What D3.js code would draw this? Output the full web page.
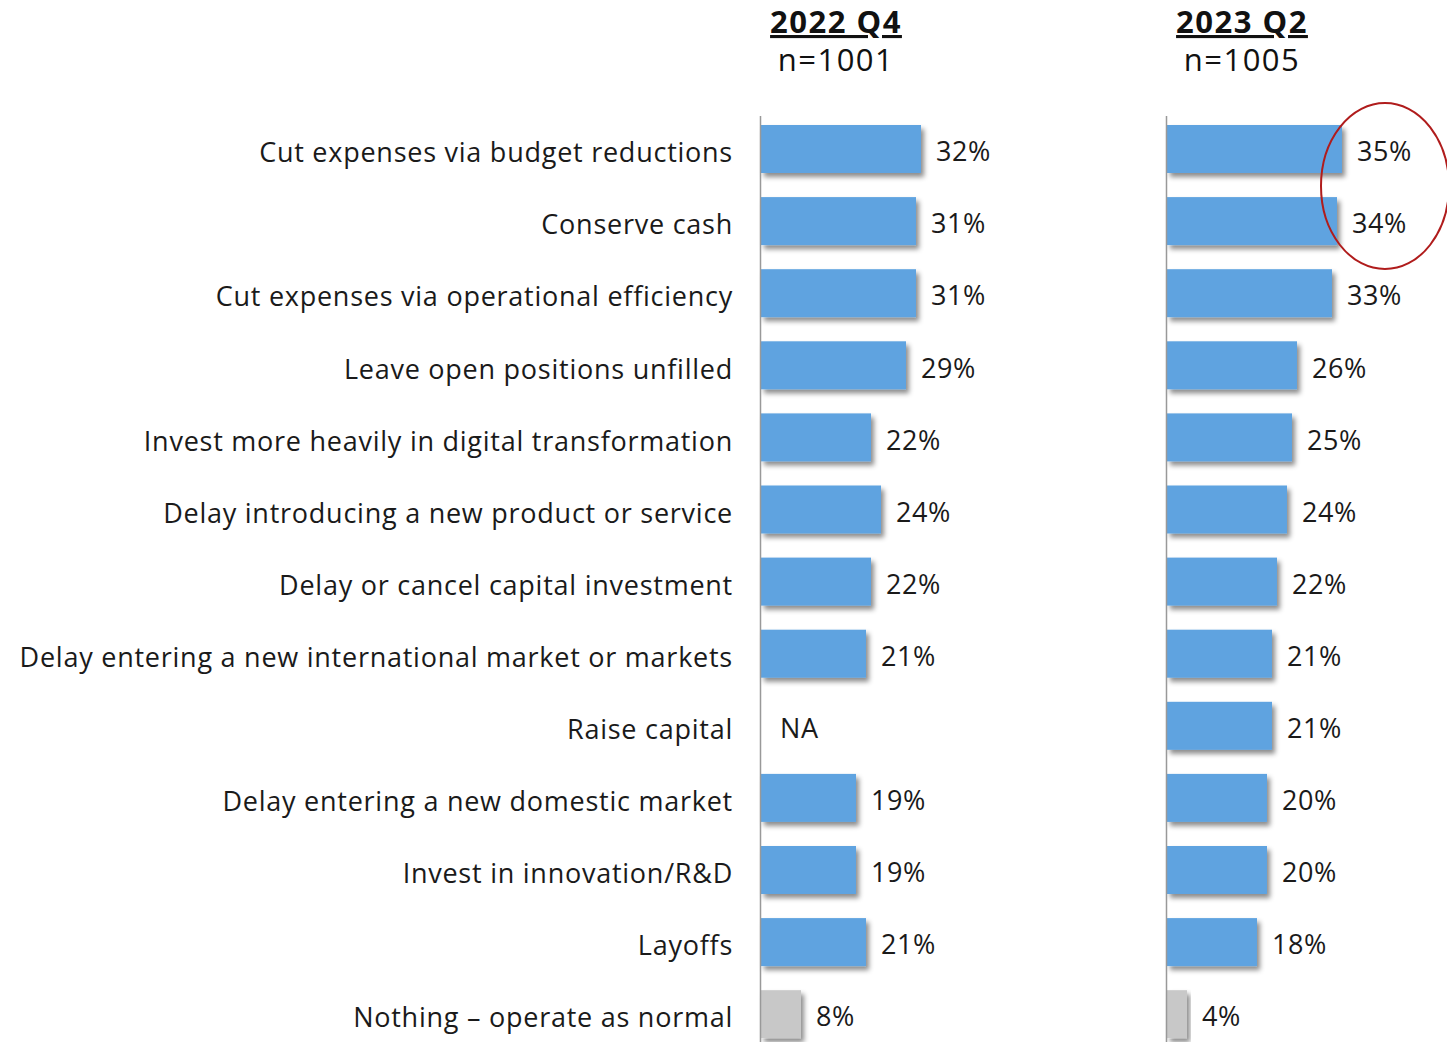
<!DOCTYPE html>
<html>
<head>
<meta charset="utf-8">
<script src="https://cdn.jsdelivr.net/npm/d3@7"></script>
<style>
  body { margin: 0; background: #fff; }
  svg { display: block; font-family: "Open Sans", Lato, sans-serif; }
</style>
</head>
<body>
<svg id="chart"></svg>
<script>
const categories = [
    "Cut expenses via budget reductions",
    "Conserve cash",
    "Cut expenses via operational efficiency",
    "Leave open positions unfilled",
    "Invest more heavily in digital transformation",
    "Delay introducing a new product or service",
    "Delay or cancel capital investment",
    "Delay entering a new international market or markets",
    "Raise capital",
    "Delay entering a new domestic market",
    "Invest in innovation/R&D",
    "Layoffs",
    "Nothing \u2013 operate as normal"
];
const q4Values = [32, 31, 31, 29, 22, 24, 22, 21, null, 19, 19, 21, 8];
const q2Values = [35, 34, 33, 26, 25, 24, 22, 21, 21, 20, 20, 18, 4];
const panels = [
    { title: "2022 Q4", n: "n=1001", values: q4Values },
    { title: "2023 Q2", n: "n=1005", values: q2Values }
];

const WIDTH = 1447, HEIGHT = 1042;
const FIRST_TOP = 125, ROW = 72.1, BAR_H = 48;
const PANEL_X = [761, 1167];
const LABEL_X = 733;

const svg = d3.select("#chart")
    .attr("width", WIDTH)
    .attr("height", HEIGHT);

const defs = svg.append("defs");
defs.append("filter")
    .attr("id", "shadow")
    .attr("x", "-10%").attr("y", "-20%")
    .attr("width", "130%").attr("height", "160%")
    .append("feDropShadow")
    .attr("dx", 3).attr("dy", 4)
    .attr("stdDeviation", 2.5)
    .attr("flood-color", "#000")
    .attr("flood-opacity", 0.45);

const y = d3.scaleBand()
    .domain(categories)
    .range([FIRST_TOP - (ROW - BAR_H) / 2, FIRST_TOP - (ROW - BAR_H) / 2 + ROW * categories.length])
    .paddingInner((ROW - BAR_H) / ROW)
    .paddingOuter((ROW - BAR_H) / ROW / 2);

const x = d3.scaleLinear().domain([0, 35]).range([0, 175]);

// category labels
svg.append("g")
    .selectAll("text")
    .data(categories)
    .join("text")
    .attr("x", LABEL_X)
    .attr("y", d => y(d) + y.bandwidth() / 2 + 6)
    .attr("text-anchor", "end")
    .attr("dominant-baseline", "middle")
    .style("font-size", "27px")
    .style("letter-spacing", "0.75px")
    .style("fill", "#1a1a1a")
    .text(d => d);

panels.forEach(function (p, pi) {
    const g = svg.append("g")
        .attr("transform", `translate(${PANEL_X[pi]},0)`);

    const cx = x(15);
    g.append("text")
        .attr("x", cx)
        .attr("y", 33)
        .attr("text-anchor", "middle")
        .style("font-size", "31px")
        .style("letter-spacing", "1.5px")
        .style("font-weight", "bold")
        .style("text-decoration", "underline")
        .style("fill", "#111")
        .text(p.title);
    g.append("text")
        .attr("x", cx)
        .attr("y", 71)
        .attr("text-anchor", "middle")
        .style("font-size", "31px")
        .style("letter-spacing", "1.5px")
        .style("fill", "#111")
        .text(p.n);

    const rows = categories.map((c, i) => ({ cat: c, value: p.values[i], last: i === categories.length - 1 }));

    g.selectAll("rect.bar")
        .data(rows.filter(d => d.value != null))
        .join("rect")
        .attr("class", "bar")
        .attr("x", 0)
        .attr("y", d => y(d.cat))
        .attr("width", d => x(d.value))
        .attr("height", y.bandwidth())
        .attr("fill", d => d.last ? "#c8c8c8" : "#5fa3e0")
        .attr("filter", "url(#shadow)");

    g.append("line")
        .attr("x1", -0.5).attr("x2", -0.5)
        .attr("y1", 116).attr("y2", HEIGHT)
        .style("stroke", "#999")
        .style("stroke-width", 1.5);

    g.selectAll("text.val")
        .data(rows)
        .join("text")
        .attr("class", "val")
        .attr("x", d => d.value == null ? 19 : x(d.value) + 15)
        .attr("y", d => y(d.cat) + y.bandwidth() / 2 + 5)
        .attr("dominant-baseline", "middle")
        .style("font-size", "27px")
        .style("letter-spacing", "0.6px")
        .style("fill", "#1a1a1a")
        .text(d => d.value == null ? "NA" : d.value + "%");
});

// highlight ellipse around the top two 2023 Q2 values
svg.append("ellipse")
    .attr("cx", PANEL_X[1] + x(35) + 43)
    .attr("cy", (y(categories[0]) + y(categories[1]) + y.bandwidth()) / 2 + 1)
    .attr("rx", 64)
    .attr("ry", 83)
    .style("fill", "none")
    .style("stroke", "#b01c1c")
    .style("stroke-width", 2);
</script>
</body>
</html>
